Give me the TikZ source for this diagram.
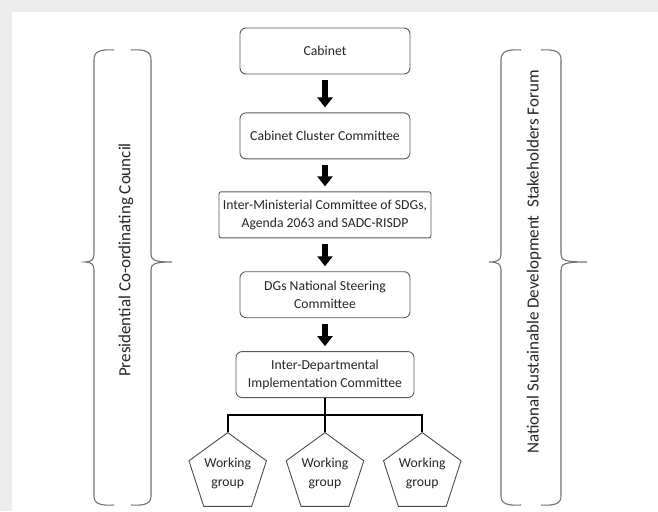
\documentclass[tikz,border=0pt]{standalone}
\usepackage{fontspec}
\setmainfont{Carlito}
\usetikzlibrary{positioning, arrows.meta, shapes.geometric}

\begin{document}
\begin{tikzpicture}[x=1pt, y=-1pt,
	font=\fontsize{13.7}{18.5}\selectfont, text=black!85,
	box/.style={draw=black!65, line width=0.9pt, rounded corners=6pt, minimum width=170pt, minimum height=46pt, align=center, inner sep=2pt},
	downarrow/.style={line width=5.5pt, -{Triangle[width=15pt,length=10pt]}, shorten <=6pt, shorten >=5pt},
	wgroup/.style={draw=black!70, line width=0.9pt, regular polygon, regular polygon sides=5, minimum size=72pt, inner sep=0pt, align=center},
	tree/.style={line width=1.6pt},
	bracket/.style={draw=black!55, line width=1.1pt},
	side/.style={rotate=90, font=\fontsize{17}{20}\selectfont}]
	% frame
	\fill[black!7] (0,0) rectangle (658,511);
	\fill[white] (12,12) rectangle (658,511);
	
	% chain of committees
	\node[box] (cab) at (325,51) {Cabinet};
	\node[box, below=38pt of cab] (ccc) {Cabinet Cluster Committee};
	\node[box, below=32pt of ccc, minimum width=212pt, rounded corners=2pt] (imc) {Inter-Ministerial Committee of SDGs,\\Agenda 2063 and SADC-RISDP};
	\node[box, below=33pt of imc] (dgs) {DGs National Steering\\Committee};
	\node[box, below=33pt of dgs, minimum width=178pt] (idc) {Inter-Departmental\\Implementation Committee};
	
	\draw[downarrow] (cab) -- (ccc);
	\draw[downarrow] (ccc) -- (imc);
	\draw[downarrow] (imc) -- (dgs);
	\draw[downarrow] (dgs) -- (idc);
	
	% working groups
	\node[wgroup, below=34pt of idc] (wg2) {Working\\group};
	\node[wgroup, left=27pt of wg2] (wg1) {Working\\group};
	\node[wgroup, right=27pt of wg2] (wg3) {Working\\group};
	\coordinate[below=17pt of idc] (bus);
	
	\draw[tree] (idc) -- (wg2);
	\draw[tree] (wg1.north) |- (bus) -| (wg3.north);
	
	% side bodies
	\node[side] (pcc) at (126,260) {Presidential Co-ordinating Council};
	\node[side] (nsf) at (534,262) {National Sustainable Development\ \ Stakeholders Forum};
	
	\foreach \l/\r/\lt/\rt in {94/151/85/172, 501/561/489/587} {
		\draw[bracket] (\l+20,50) .. controls (\l+5,49) and (\l,52) .. (\l,60) -- (\l,254)
			.. controls (\l,260) and (\l-3,262) .. (\lt,262) .. controls (\l-3,262) and (\l,264) .. (\l,270)
			-- (\l,496) .. controls (\l,503) and (\l+5,506) .. (\l+20,505);
		\draw[bracket] (\r-20,50) .. controls (\r-5,49) and (\r,52) .. (\r,60) -- (\r,254)
			.. controls (\r,260) and (\r+3,262) .. (\rt,262) .. controls (\r+3,262) and (\r,264) .. (\r,270)
			-- (\r,496) .. controls (\r,503) and (\r-5,506) .. (\r-20,505);
	}
\end{tikzpicture}
\end{document}
